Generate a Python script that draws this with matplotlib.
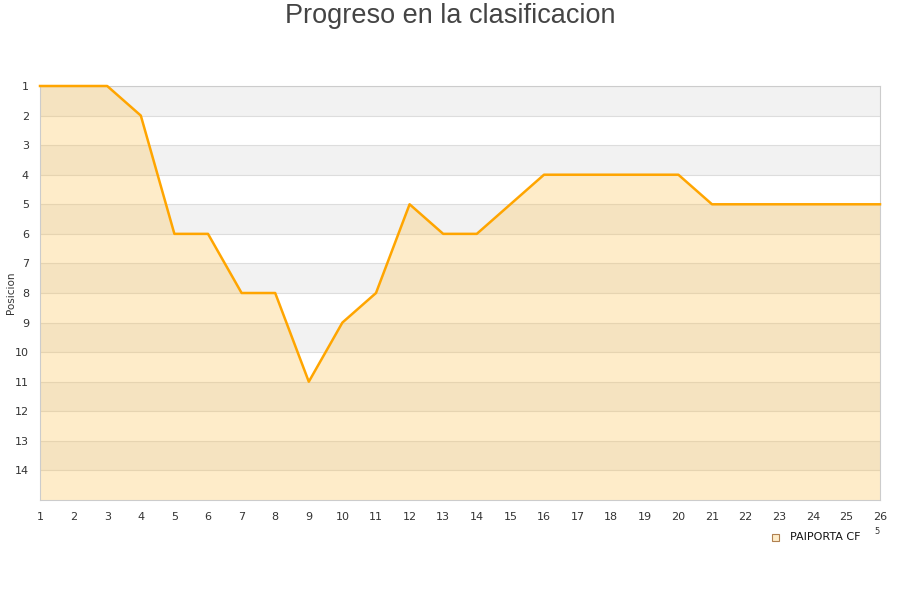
import matplotlib.pyplot as plt

# jornada / posicion
jornadas = list(range(1, 27))
posiciones = [1, 1, 1, 2, 6, 6, 8, 8, 11, 9, 8, 5, 6, 6, 5, 4, 4, 4, 4, 4, 5, 5, 5, 5, 5, 5]
equipo = 'PAIPORTA CF'
y_ticks = list(range(1, 15))

fig = plt.figure(figsize=(9, 6), dpi=100)
ax = fig.add_axes([40 / 900, 1 - 500 / 600, 840 / 900, 414 / 600])

# alternating bands + grid lines
for p in range(1, 15):
    if p % 2 == 1:
        ax.axhspan(p, p + 1, color='#f2f2f2', lw=0, zorder=0)
    ax.axhline(p, color='#dddddd', lw=0.8, zorder=0.5)

# area + line
ax.fill_between(jornadas, posiciones, 15, color=(252 / 255, 194 / 255, 81 / 255),
                alpha=0.31, lw=0, zorder=1)
ax.plot(jornadas, posiciones, color='#FFA500', lw=1.8, zorder=3, clip_on=False)

ax.set_xlim(1, 26)
ax.set_ylim(15, 1)
ax.set_xticks(jornadas)
ax.set_yticks(y_ticks)
ax.tick_params(axis='both', length=0, labelsize=8, colors='#333333')
ax.tick_params(axis='x', pad=9)
ax.tick_params(axis='y', pad=8)
for s in ax.spines.values():
    s.set_color('#cccccc')
    s.set_linewidth(0.8)

fig.text(11 / 900, 1 - 293 / 600, 'Posicion', rotation=90, ha='center', va='center',
         fontsize=7.5, color='#333333')
fig.text(0.5, 1 - 16 / 600, 'Progreso en la clasificacion', ha='center', va='center',
         fontsize=19.5, color='#444444', family='Liberation Sans')

# legend
fig.patches.append(plt.Rectangle((772 / 900, 1 - 541 / 600), 7 / 900, 7 / 600,
                                 transform=fig.transFigure, facecolor='#feecc9',
                                 edgecolor='#b08050', lw=0.8))
fig.text(790 / 900, 1 - 537 / 600, equipo, fontsize=8, va='center', color='#111111')
fig.text(874 / 900, 1 - 532 / 600, '5', fontsize=6, va='center', color='#333333')

fig.savefig('out.png', dpi=100)
